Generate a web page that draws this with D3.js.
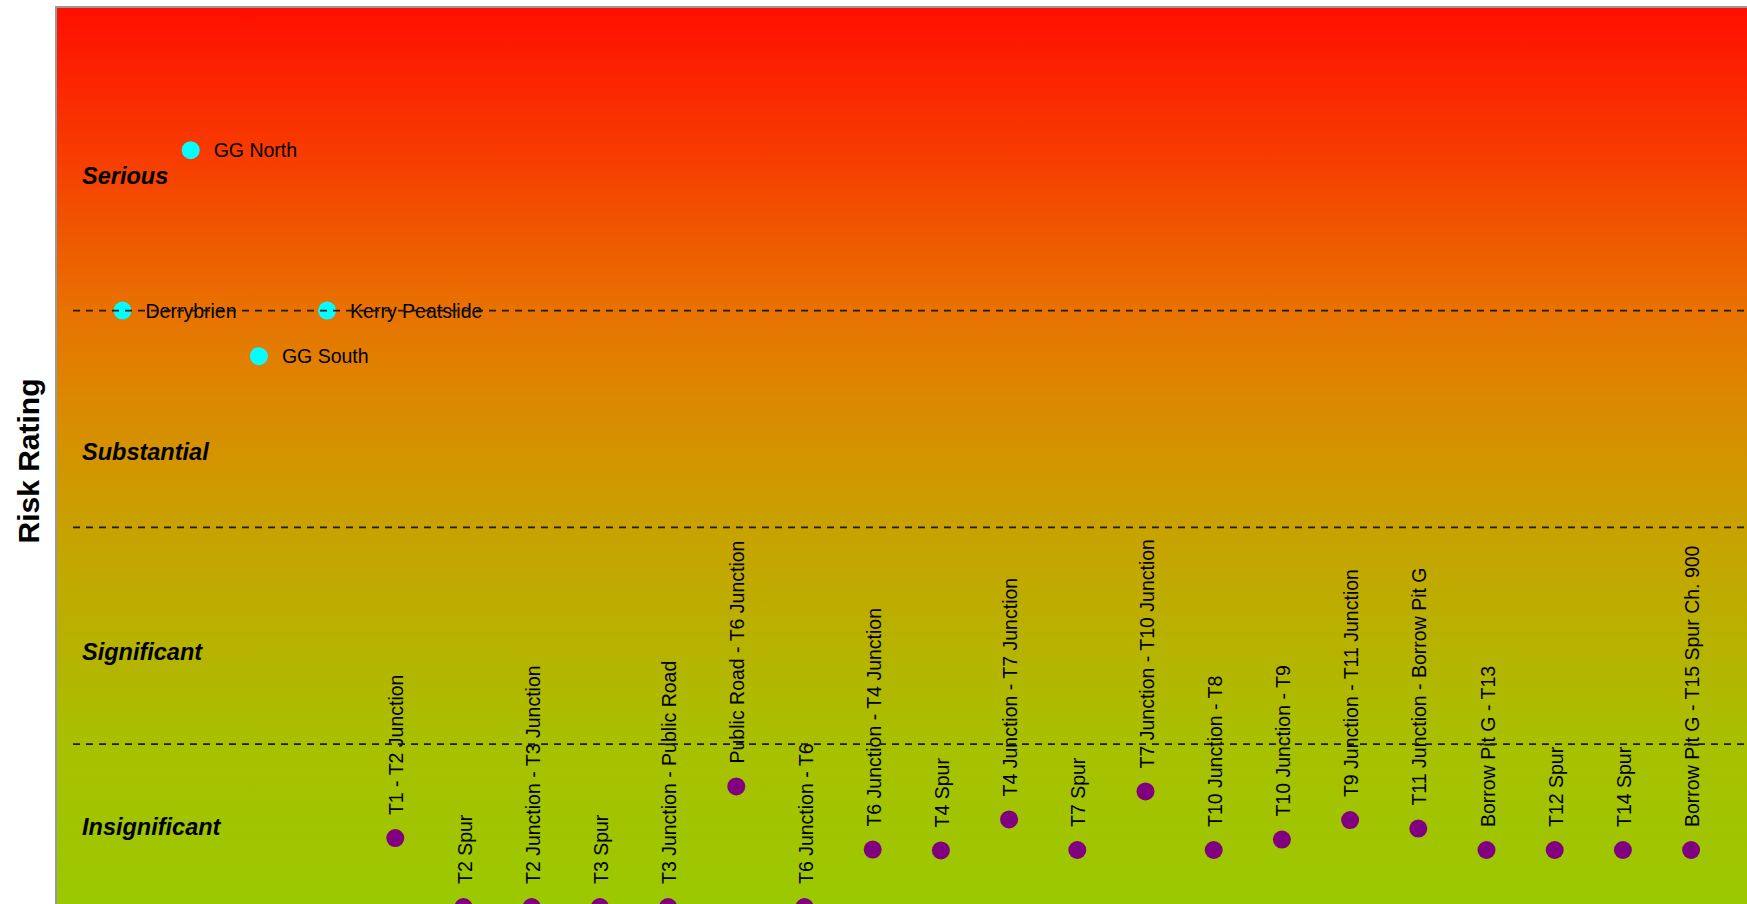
<!DOCTYPE html>
<html>
<head>
<meta charset="utf-8">
<script src="https://cdn.jsdelivr.net/npm/d3@7"></script>
<style>
  body { margin: 0; background: #fff; overflow: hidden; }
  text { font-family: "Liberation Sans", Arial, sans-serif; }
</style>
</head>
<body>
<svg id="chart"></svg>
<script>
// landslide reference sites (cyan)
const siteNames = ["Derrybrien", "GG North", "GG South", "Kerry Peatslide"];
const siteIndex = [1, 2, 3, 4];
const siteRisk = [3.0, 3.74, 2.79, 3.0];

// route sections (purple)
const routeNames = [
  "T1 - T2 Junction", "T2 Spur", "T2 Junction - T3 Junction", "T3 Spur",
  "T3 Junction - Public Road", "Public Road - T6 Junction", "T6 Junction - T6",
  "T6 Junction - T4 Junction", "T4 Spur", "T4 Junction - T7 Junction", "T7 Spur",
  "T7 Junction - T10 Junction", "T10 Junction - T8", "T10 Junction - T9",
  "T9 Junction - T11 Junction", "T11 Junction - Borrow Pit G", "Borrow Pit G - T13",
  "T12 Spur", "T14 Spur", "Borrow Pit G - T15 Spur Ch. 900"
];
const routeIndex = [5, 6, 7, 8, 9, 10, 11, 12, 13, 14, 15, 16, 17, 18, 19, 20, 21, 22, 23, 24];
const routeRisk = [0.567, 0.249, 0.249, 0.249, 0.249, 0.805, 0.249, 0.514, 0.51, 0.653,
  0.512, 0.782, 0.512, 0.56, 0.65, 0.611, 0.512, 0.512, 0.512, 0.512];

// risk bands
const bandBounds = [1, 2, 3];
const bandNames = ["Insignificant", "Significant", "Substantial", "Serious"];
const bandLabelRisk = [0.58, 1.39, 2.31, 3.583];

var svgWidth = 1747
var svgHeight = 904
var plotLeft = 56
var plotTop = 7

var svg = d3.select("#chart")
  .attr("width", svgWidth)
  .attr("height", svgHeight)

var x = d3.scaleLinear().domain([0, 25]).range([54.3, 54.3 + 25 * 68.2])
var y = d3.scaleLinear().domain([0, 4.4]).range([961, 7.1])

// background gradient
var grad = svg.append("defs").append("linearGradient")
  .attr("id", "bg")
  .attr("gradientUnits", "userSpaceOnUse")
  .attr("x1", 0).attr("x2", 0)
  .attr("y1", y(4.4)).attr("y2", y(0))
var stops = [
  [4.4, "#ff0f00"], [3.74, "#f83a00"], [3.0, "#e87200"], [2.6, "#dc8800"],
  [2.0, "#c8a200"], [1.0, "#a8c000"], [0, "#96cc00"]
]
stops.forEach(s => {
  grad.append("stop")
    .attr("offset", (1 - s[0] / 4.4) * 100 + "%")
    .attr("stop-color", s[1])
})

svg.append("rect")
  .attr("x", plotLeft)
  .attr("y", plotTop)
  .attr("width", svgWidth - plotLeft + 10)
  .attr("height", y(0) - plotTop)
  .attr("fill", "url(#bg)")

// frame (left + top)
svg.append("path")
  .attr("d", "M" + plotLeft + "," + (svgHeight + 5) + "V" + plotTop + "H" + (svgWidth + 5))
  .attr("fill", "none")
  .attr("stroke", "#999")
  .attr("stroke-width", 2)

// band labels
svg.selectAll(".band")
  .data(bandNames)
  .enter().append("text")
  .attr("class", "band")
  .attr("x", 82)
  .attr("y", (d, i) => y(bandLabelRisk[i]))
  .style("font-size", "23.5px")
  .style("font-weight", "bold")
  .style("font-style", "italic")
  .attr("fill", "#000")
  .text(d => d)

// y title
svg.append("text")
  .attr("transform", "translate(" + 39 + "," + 461 + ") rotate(-90)")
  .attr("text-anchor", "middle")
  .style("font-size", "30px")
  .style("font-weight", "bold")
  .attr("fill", "#000")
  .text("Risk Rating")

// site points
var sites = siteNames.map((n, i) => ({ name: n, idx: siteIndex[i], risk: siteRisk[i] }))
svg.selectAll(".site")
  .data(sites)
  .enter().append("circle")
  .attr("class", "site")
  .attr("cx", d => x(d.idx))
  .attr("cy", d => y(d.risk))
  .attr("r", 9)
  .attr("fill", "#00ffff")

svg.selectAll(".siteLabel")
  .data(sites)
  .enter().append("text")
  .attr("class", "siteLabel")
  .attr("x", d => x(d.idx) + 23)
  .attr("y", d => y(d.risk) + 7)
  .style("font-size", "19.5px")
  .attr("fill", "#000")
  .text(d => d.name)

// route points
var routes = routeNames.map((n, i) => ({ name: n, idx: routeIndex[i], risk: routeRisk[i] }))
svg.selectAll(".route")
  .data(routes)
  .enter().append("circle")
  .attr("class", "route")
  .attr("cx", d => x(d.idx))
  .attr("cy", d => y(d.risk))
  .attr("r", 9)
  .attr("fill", "#800080")

svg.selectAll(".routeLabel")
  .data(routes)
  .enter().append("text")
  .attr("class", "routeLabel")
  .attr("transform", d => "translate(" + (x(d.idx) + 8) + "," + (y(d.risk) - 23) + ") rotate(-90)")
  .style("font-size", "19.5px")
  .attr("fill", "#000")
  .text(d => d.name)

// band boundaries
svg.selectAll(".bound")
  .data(bandBounds)
  .enter().append("line")
  .attr("class", "bound")
  .attr("x1", 73)
  .attr("x2", svgWidth + 5)
  .attr("y1", d => y(d))
  .attr("y2", d => y(d))
  .attr("stroke", "#1a1a1a")
  .attr("stroke-width", 1.8)
  .attr("stroke-dasharray", "7,6")
</script>
</body>
</html>
